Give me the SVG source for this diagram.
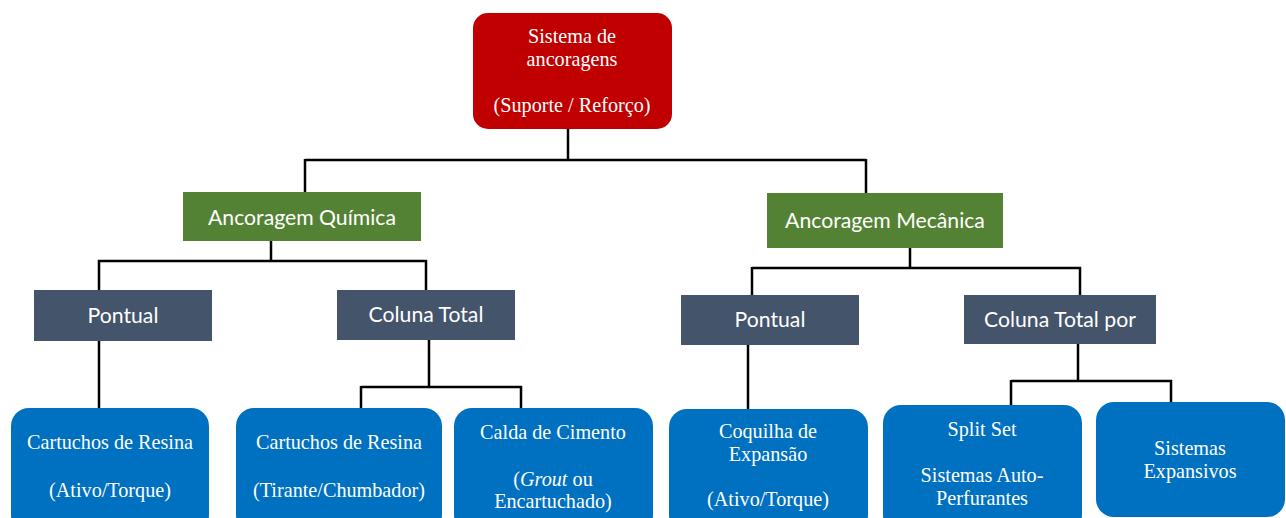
<svg xmlns="http://www.w3.org/2000/svg" width="1286" height="518" viewBox="0 0 1286 518">
<style>
.root{fill:#C00000}
.green{fill:#548235}
.slate{fill:#44546A}
.blue{fill:#0070C0}
.sans{font-family:Lato,"Open Sans","Liberation Sans",sans-serif;font-size:21.2px;fill:#FFFFFF;text-anchor:middle}
.serif{font-family:"Liberation Serif","Times New Roman",serif;font-size:20.2px;fill:#FFFFFF;text-anchor:middle}
.conn{fill:none;stroke:#000000;stroke-width:2.5}
</style>
<rect width="1286" height="518" fill="#FFFFFF"/>
<g id="connectors">
<path class="conn" d="M568,129 V160 M305,160 H866 M305,159 V193 M866,159 V193"/>
<path class="conn" d="M271,241 V261 M98,261 H427 M99,260 V290 M426,260 V290"/>
<path class="conn" d="M99,341 V408"/>
<path class="conn" d="M429,340 V387 M361,387 H522 M361,386 V408 M521,386 V408"/>
<path class="conn" d="M910,248 V268 M752,268 H1081 M752,267 V295 M1080,267 V295"/>
<path class="conn" d="M748,345 V409"/>
<path class="conn" d="M1078,344 V381 M1011,381 H1172 M1011,380 V405 M1171,380 V402"/>
</g>
<g id="root">
<rect class="root" x="473" y="13" width="199" height="116" rx="15"/>
<text class="serif" x="572" y="43">Sistema de</text>
<text class="serif" x="572" y="66">ancoragens</text>
<text class="serif" x="572" y="112">(Suporte / Reforço)</text>
</g>
<g id="quimica">
<rect class="green" x="183" y="192" width="238" height="49"/>
<text class="sans" x="302" y="225">Ancoragem Química</text>
</g>
<g id="mecanica">
<rect class="green" x="767" y="193" width="236" height="55"/>
<text class="sans" x="885" y="228">Ancoragem Mecânica</text>
</g>
<g id="pontual-q">
<rect class="slate" x="34" y="290" width="178" height="51"/>
<text class="sans" x="123" y="323">Pontual</text>
</g>
<g id="coluna-q">
<rect class="slate" x="337" y="290" width="178" height="50"/>
<text class="sans" x="426" y="322">Coluna Total</text>
</g>
<g id="pontual-m">
<rect class="slate" x="681" y="295" width="178" height="50"/>
<text class="sans" x="770" y="327">Pontual</text>
</g>
<g id="coluna-m">
<rect class="slate" x="964" y="295" width="192" height="49"/>
<text class="sans" x="1060" y="327">Coluna Total por</text>
</g>
<g id="cartuchos-ativo">
<rect class="blue" x="11" y="408" width="198" height="125" rx="18"/>
<text class="serif" x="110" y="449">Cartuchos de Resina</text>
<text class="serif" x="110" y="497">(Ativo/Torque)</text>
</g>
<g id="cartuchos-tirante">
<rect class="blue" x="236" y="408" width="206" height="125" rx="18"/>
<text class="serif" x="339" y="449">Cartuchos de Resina</text>
<text class="serif" x="339" y="497">(Tirante/Chumbador)</text>
</g>
<g id="calda">
<rect class="blue" x="454" y="408" width="199" height="125" rx="18"/>
<text class="serif" x="553" y="439">Calda de Cimento</text>
<text class="serif" x="553" y="486">(<tspan font-style="italic">Grout</tspan> ou</text>
<text class="serif" x="553" y="508">Encartuchado)</text>
</g>
<g id="coquilha">
<rect class="blue" x="669" y="409" width="199" height="124" rx="18"/>
<text class="serif" x="768" y="438">Coquilha de</text>
<text class="serif" x="768" y="461">Expansão</text>
<text class="serif" x="768" y="506">(Ativo/Torque)</text>
</g>
<g id="split">
<rect class="blue" x="883" y="405" width="199" height="128" rx="18"/>
<text class="serif" x="982" y="436">Split Set</text>
<text class="serif" x="982" y="482">Sistemas Auto-</text>
<text class="serif" x="982" y="505">Perfurantes</text>
</g>
<g id="expansivos">
<rect class="blue" x="1096" y="402" width="189" height="115" rx="18"/>
<text class="serif" x="1190" y="455">Sistemas</text>
<text class="serif" x="1190" y="478">Expansivos</text>
</g>
</svg>
